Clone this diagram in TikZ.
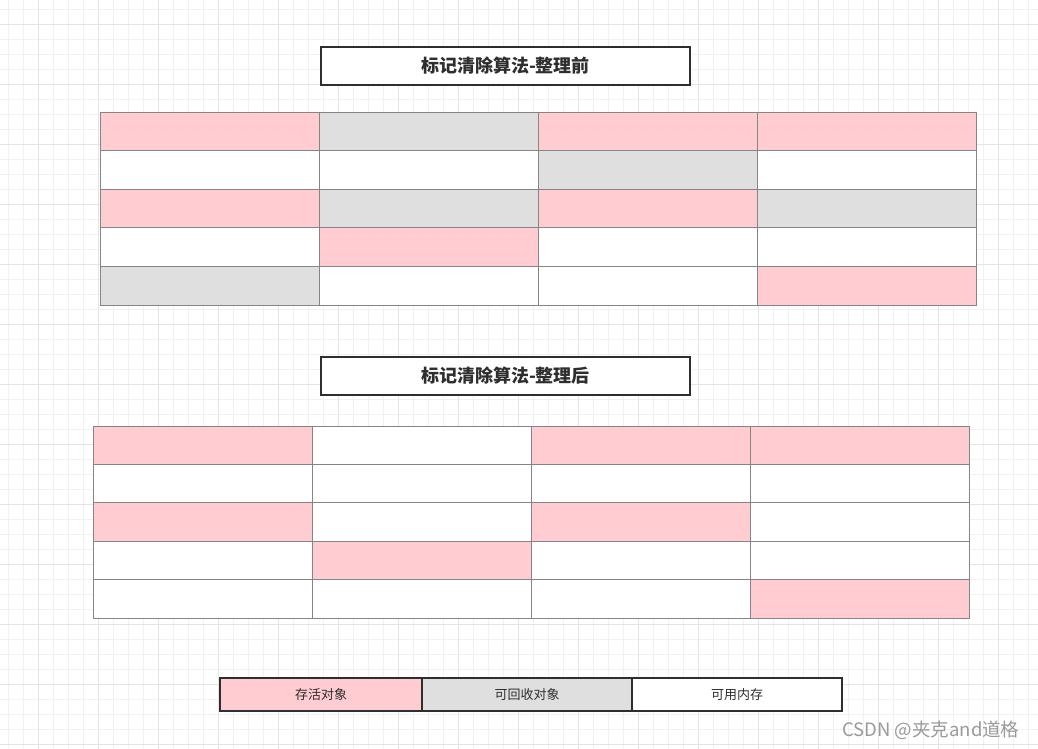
\documentclass[tikz,border=0pt]{standalone}
\usepackage{fontspec}
\usepackage{xcolor}
\usepackage{tikz}
\usetikzlibrary{positioning}
\newfontfamily\cjk{Noto Sans CJK SC}
\definecolor{alivePink}{HTML}{FFCCD1}
\definecolor{deadGray}{HTML}{DFDFDF}
\definecolor{cellLine}{HTML}{858585}
\definecolor{boxLine}{HTML}{2E2E2E}
\definecolor{gridMinor}{HTML}{F1F1F1}
\definecolor{gridMajor}{HTML}{E4E4E4}
\definecolor{markGray}{HTML}{9A9A9A}

\tikzset{
  cell/.style={draw=cellLine,line width=0.9pt,anchor=north west,inner sep=0pt,outer sep=0pt,
               minimum width=219pt,minimum height=38.6pt},
  titlebox/.style={draw=boxLine,line width=1.6pt,fill=white,inner sep=0pt,
                   minimum width=369pt,minimum height=38pt,
                   font=\cjk\fontsize{18}{21}\selectfont\bfseries,text=boxLine},
  legendbox/.style={draw=boxLine,line width=1.6pt,inner sep=0pt,outer sep=0pt,
                    minimum height=33pt,font=\cjk\fontsize{13}{15}\selectfont,text=boxLine},
}

\begin{document}
\begin{tikzpicture}[x=1pt,y=-1pt]
  \useasboundingbox[fill=white] (0,0) rectangle (1038,749);
  % background grid
  \foreach \i in {0,...,69} {\draw[gridMinor,line width=0.8pt] (8.3+15*\i,0) -- (8.3+15*\i,749);}
  \foreach \i in {0,...,49} {\draw[gridMinor,line width=0.8pt] (0,9.3+15*\i) -- (1038,9.3+15*\i);}
  \foreach \i in {0,...,16} {\draw[gridMajor,line width=0.8pt] (38.3+60*\i,0) -- (38.3+60*\i,749);}
  \foreach \i in {0,...,12} {\draw[gridMajor,line width=0.8pt] (0,24.3+60*\i) -- (1038,24.3+60*\i);}

  % before compaction
  \node[titlebox] (title1) at (505.5,66) {标记清除算法-整理前};
  \foreach \row [count=\r from 0] in {{alivePink,deadGray,alivePink,alivePink},
                                    {white,white,deadGray,white},
                                    {alivePink,deadGray,alivePink,deadGray},
                                    {white,alivePink,white,white},
                                    {deadGray,white,white,alivePink}} {
    \foreach \col [count=\c from 0] in \row {
      \node[cell,fill=\col] (a-\r-\c) at (100+219*\c,112+38.6*\r) {};
    }
  }

  % after compaction
  \node[titlebox] (title2) at (505.5,376) {标记清除算法-整理后};
  \foreach \row [count=\r from 0] in {{alivePink,white,alivePink,alivePink},
                                    {white,white,white,white},
                                    {alivePink,white,alivePink,white},
                                    {white,alivePink,white,white},
                                    {white,white,white,alivePink}} {
    \foreach \col [count=\c from 0] in \row {
      \node[cell,fill=\col] (b-\r-\c) at (93+219*\c,426+38.4*\r) {};
    }
  }

  % legend
  \node[legendbox,fill=alivePink,minimum width=202pt,anchor=north west] (alive) at (220,678) {存活对象};
  \node[legendbox,fill=deadGray,minimum width=210pt,right=0pt of alive] (dead) {可回收对象};
  \node[legendbox,fill=white,minimum width=210pt,right=0pt of dead] (free) {可用内存};

  \node[font=\cjk\fontsize{18.5}{20}\selectfont,text=markGray,anchor=east] (mark) at (1023,730) {CSDN @夹克and道格};
\end{tikzpicture}
\end{document}
